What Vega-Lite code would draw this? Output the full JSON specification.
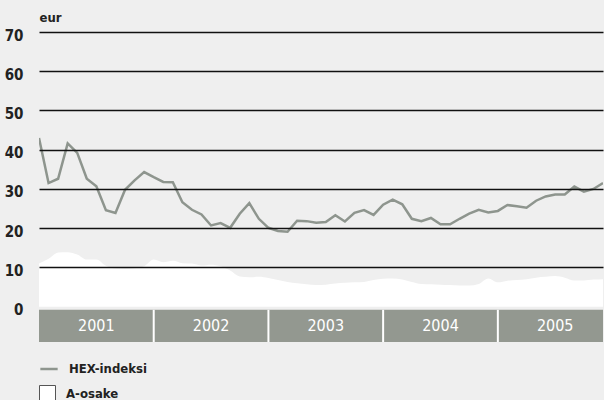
{
  "$schema": "https://vega.github.io/schema/vega-lite/v6.json",
  "width": 564,
  "height": 310,
  "autosize": {"type": "none"},
  "padding": {"left": 39, "top": 32, "right": 1, "bottom": 58},
  "background": "#efefef",
  "config": {"view": {"stroke": null}, "font": "DejaVu Sans Condensed, Roboto, sans-serif"},
  "datasets": {
    "series": [
      {"m": 0, "hex": 43.0, "a": 11.0}, {"m": 1, "hex": 31.5, "a": 12.2}, {"m": 2, "hex": 32.6, "a": 13.8},
      {"m": 3, "hex": 41.6, "a": 13.9}, {"m": 4, "hex": 39.2, "a": 13.3}, {"m": 5, "hex": 32.6, "a": 12.0},
      {"m": 6, "hex": 30.7, "a": 12.0}, {"m": 7, "hex": 24.6, "a": 10.4}, {"m": 8, "hex": 23.9, "a": 9.7},
      {"m": 9, "hex": 29.8, "a": 9.6}, {"m": 10, "hex": 32.2, "a": 9.8}, {"m": 11, "hex": 34.3, "a": 10.3},
      {"m": 12, "hex": 33.0, "a": 12.0}, {"m": 13, "hex": 31.8, "a": 11.3}, {"m": 14, "hex": 31.7, "a": 11.7},
      {"m": 15, "hex": 26.6, "a": 11.1}, {"m": 16, "hex": 24.7, "a": 11.0}, {"m": 17, "hex": 23.5, "a": 10.5},
      {"m": 18, "hex": 20.7, "a": 10.7}, {"m": 19, "hex": 21.3, "a": 10.3}, {"m": 20, "hex": 20.1, "a": 9.2},
      {"m": 21, "hex": 23.7, "a": 7.7}, {"m": 22, "hex": 26.4, "a": 7.5}, {"m": 23, "hex": 22.4, "a": 7.6},
      {"m": 24, "hex": 20.1, "a": 7.3}, {"m": 25, "hex": 19.3, "a": 6.8}, {"m": 26, "hex": 19.1, "a": 6.3},
      {"m": 27, "hex": 21.9, "a": 6.0}, {"m": 28, "hex": 21.8, "a": 5.7}, {"m": 29, "hex": 21.4, "a": 5.5},
      {"m": 30, "hex": 21.6, "a": 5.6}, {"m": 31, "hex": 23.3, "a": 5.9}, {"m": 32, "hex": 21.7, "a": 6.1},
      {"m": 33, "hex": 23.9, "a": 6.2}, {"m": 34, "hex": 24.6, "a": 6.3}, {"m": 35, "hex": 23.4, "a": 6.8},
      {"m": 36, "hex": 26.0, "a": 7.1}, {"m": 37, "hex": 27.3, "a": 7.2}, {"m": 38, "hex": 26.1, "a": 6.9},
      {"m": 39, "hex": 22.4, "a": 6.3}, {"m": 40, "hex": 21.8, "a": 5.8}, {"m": 41, "hex": 22.6, "a": 5.7},
      {"m": 42, "hex": 21.0, "a": 5.6}, {"m": 43, "hex": 21.0, "a": 5.5}, {"m": 44, "hex": 22.4, "a": 5.4},
      {"m": 45, "hex": 23.7, "a": 5.4}, {"m": 46, "hex": 24.7, "a": 5.8}, {"m": 47, "hex": 24.0, "a": 7.2},
      {"m": 48, "hex": 24.4, "a": 6.2}, {"m": 49, "hex": 25.9, "a": 6.6}, {"m": 50, "hex": 25.6, "a": 6.8},
      {"m": 51, "hex": 25.2, "a": 7.0}, {"m": 52, "hex": 27.0, "a": 7.4}, {"m": 53, "hex": 28.1, "a": 7.6},
      {"m": 54, "hex": 28.6, "a": 7.8}, {"m": 55, "hex": 28.6, "a": 7.4}, {"m": 56, "hex": 30.6, "a": 6.7},
      {"m": 57, "hex": 29.3, "a": 6.7}, {"m": 58, "hex": 30.0, "a": 6.9}, {"m": 59, "hex": 31.5, "a": 7.0}
    ],
    "years": [
      {"year": "2001", "start": 0, "end": 12, "mid": 6},
      {"year": "2002", "start": 12, "end": 24, "mid": 18},
      {"year": "2003", "start": 24, "end": 36, "mid": 30},
      {"year": "2004", "start": 36, "end": 48, "mid": 42},
      {"year": "2005", "start": 48, "end": 60, "mid": 54}
    ]
  },
  "layer": [
    {
      "data": {"name": "series"},
      "mark": {"type": "area", "interpolate": "monotone", "opacity": 1, "clip": true},
      "encoding": {
        "x": {"field": "m", "type": "quantitative", "scale": {"domain": [0, 59], "nice": false, "zero": false}, "axis": null},
        "y": {
          "field": "a", "type": "quantitative",
          "scale": {"domain": [-9, 70], "nice": false},
          "axis": {
            "values": [0, 10, 20, 30, 40, 50, 60, 70],
            "domain": false, "ticks": false,
            "labelFont": "DejaVu Sans Condensed, Roboto, sans-serif", "labelFontWeight": "bold", "labelFontSize": 15,
            "labelColor": "#222222", "labelPadding": 16, "labelOffset": 3,
            "grid": true,
            "gridColor": {"condition": {"test": "datum.value === 0", "value": "transparent"}, "value": "#111111"},
            "gridWidth": 1.3, "zindex": 1,
            "title": "eur", "titleAngle": 0, "titleX": 0, "titleY": -11, "titleAlign": "left",
            "titleBaseline": "alphabetic", "titleFont": "DejaVu Sans Condensed, Roboto, sans-serif", "titleFontSize": 13,
            "titleFontWeight": "bold", "titleColor": "#222222"
          }
        },
        "y2": {"datum": 0},
        "fill": {
          "datum": "A-osake", "type": "nominal",
          "scale": {"range": ["#ffffff"]},
          "legend": {
            "orient": "none", "legendX": 0, "legendY": 353, "title": null, "padding": 0,
            "symbolType": "square", "symbolSize": 256, "symbolFillColor": "#ffffff",
            "symbolStrokeColor": "#555555", "symbolStrokeWidth": 1, "symbolOpacity": 1,
            "labelFont": "DejaVu Sans Condensed, Roboto, sans-serif", "labelFontWeight": "bold", "labelFontSize": 13,
            "labelColor": "#222222", "labelOffset": 10
          }
        }
      }
    },
    {
      "data": {"name": "years"},
      "mark": {"type": "rect", "fill": "#939890", "clip": true},
      "encoding": {
        "x": {"field": "start", "type": "quantitative"},
        "x2": {"field": "end"},
        "y": {"datum": -0.8},
        "y2": {"datum": -9}
      }
    },
    {
      "data": {"name": "years"},
      "transform": [{"filter": "datum.start > 0"}],
      "mark": {"type": "rule", "color": "#ffffff", "strokeWidth": 2},
      "encoding": {
        "x": {"field": "start", "type": "quantitative"},
        "y": {"datum": -0.8},
        "y2": {"datum": -9}
      }
    },
    {
      "data": {"name": "years"},
      "mark": {"type": "text", "color": "#ffffff", "font": "DejaVu Sans Condensed, Roboto, sans-serif", "fontSize": 16, "baseline": "middle", "align": "center"},
      "encoding": {
        "x": {"field": "mid", "type": "quantitative"},
        "y": {"datum": -4.9},
        "text": {"field": "year"}
      }
    },
    {
      "data": {"name": "series"},
      "mark": {"type": "line", "strokeWidth": 2.5, "clip": true},
      "encoding": {
        "x": {"field": "m", "type": "quantitative"},
        "y": {"field": "hex", "type": "quantitative"},
        "stroke": {
          "datum": "HEX-indeksi", "type": "nominal",
          "scale": {"range": ["#8e958e"]},
          "legend": {
            "orient": "none", "legendX": 0, "legendY": 327, "title": null, "padding": 0,
            "symbolType": "stroke", "symbolSize": 300, "symbolStrokeWidth": 2.5,
            "labelFont": "DejaVu Sans Condensed, Roboto, sans-serif", "labelFontWeight": "bold", "labelFontSize": 13,
            "labelColor": "#222222", "labelOffset": 10
          }
        }
      }
    }
  ]
}
